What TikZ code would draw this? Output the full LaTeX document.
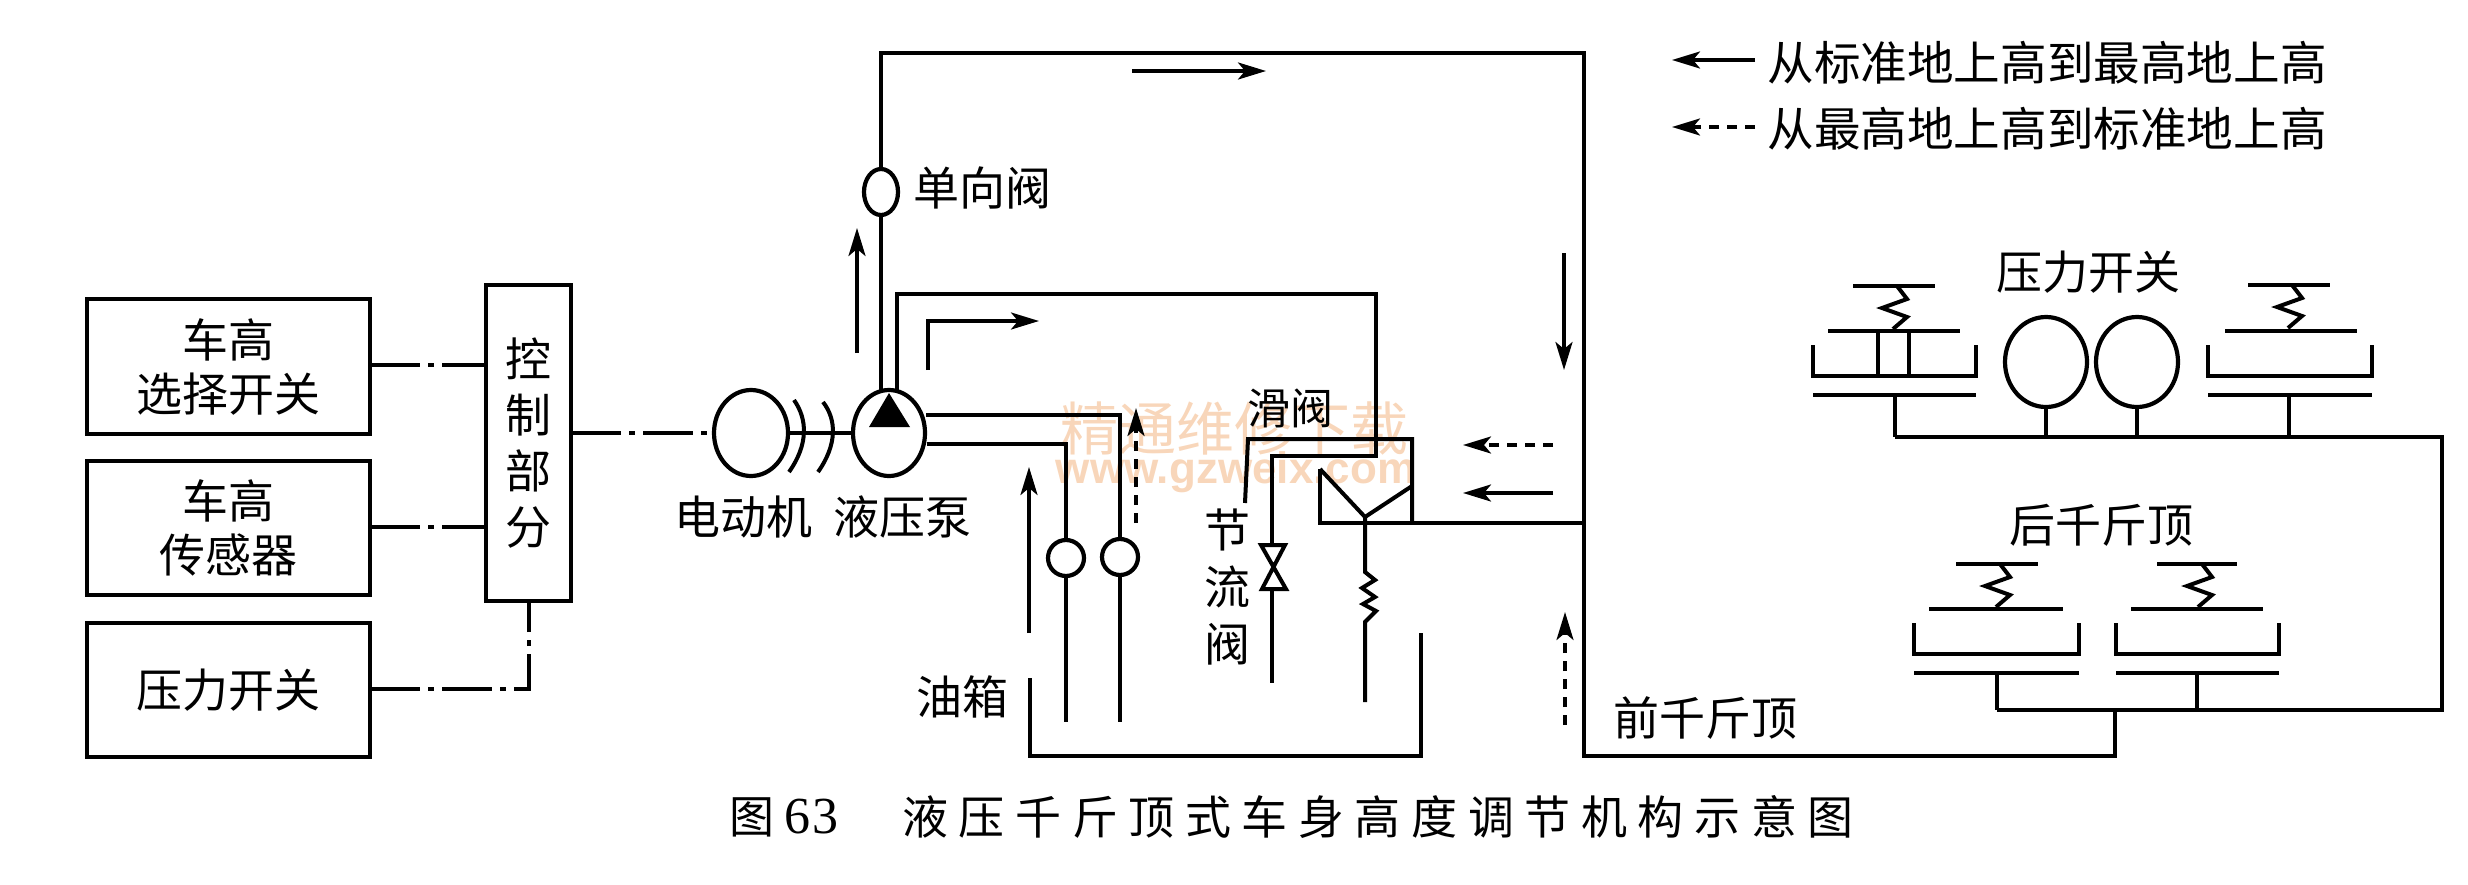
\documentclass[tikz,border=0pt]{standalone}
\usepackage{fontspec}
\setmainfont{Liberation Serif}
\newfontfamily\cjk{Noto Sans CJK SC}
\newfontfamily\cjkwide[LetterSpace=23]{Noto Sans CJK SC}
\newfontfamily\wmlatin{Liberation Sans}
\usetikzlibrary{arrows.meta,shapes.geometric}
\definecolor{wm}{HTML}{F8D6BA}
\tikzset{
  x=0.5pt,y=-0.5pt,
  pipe/.style={line width=2pt,line join=miter},
  thinpipe/.style={line width=1.6pt},
  plate/.style={line width=2.2pt},
  sig/.style={line width=1.7pt,dash pattern=on 25pt off 4pt on 3pt off 4pt},
  flow/.style={line width=1.7pt,-{Stealth[length=14pt,width=8.5pt,inset=3.5pt]}},
  flowd/.style={flow,dash pattern=on 5pt off 4pt},
  boxn/.style={draw,line width=2.1pt,rectangle,inner sep=0pt,outer sep=0pt,align=center,
    font=\cjk\fontsize{23pt}{27pt}\selectfont},
  oval/.style={draw,line width=2.1pt,ellipse,inner sep=0pt,outer sep=0pt},
  lab/.style={inner sep=0pt,outer sep=0pt,align=center,font=\cjk\fontsize{23pt}{28.5pt}\selectfont},
  wmtext/.style={inner sep=0pt,text=wm},
}
\newcommand{\swcup}[7]{% left right top bottom lowerplate stemx stemend
  \draw[pipe] (#1,#3) -- (#1,#4) -- (#2,#4) -- (#2,#3);
  \draw[plate] (#1,#5) -- (#2,#5);
  \draw[thinpipe] (#6,#5) -- (#6,#7);
}
\newcommand{\swspring}[7]{% plate1 l r y ; plate2 l r y ; spring x origin
  \draw[plate] (#1,#3) -- (#2,#3);
  \draw[plate] (#4,#6) -- (#5,#6);
  \draw[pipe] (#7,#3) -- ++(10,13) -- ++(-25,9) -- ++(25,9) -- ++(-14,12);
}
\begin{document}
\begin{tikzpicture}
\useasboundingbox (0,0) rectangle (2468,884);

% watermark
\node[wmtext,font=\cjk\fontsize{29pt}{30pt}\selectfont] (wm1) at (1234,428) {精通维修下载};
\node[wmtext,font=\wmlatin\bfseries\fontsize{22pt}{24pt}\selectfont] (wm2) at (1236,472) {www.gzweix.com};

% left blocks
\node[boxn,minimum width=141.5pt,minimum height=67.5pt] (b1) at (228.5,366.5) {车高\\选择开关};
\node[boxn,minimum width=141.5pt,minimum height=67pt] (b2) at (228.5,528) {车高\\传感器};
\node[boxn,minimum width=141.5pt,minimum height=67pt] (b3) at (228.5,690) {压力开关};
\node[boxn,minimum width=42.5pt,minimum height=158pt,font=\cjk\fontsize{23pt}{28pt}\selectfont] (ctl) at (528.5,443) {控\\制\\部\\分};

% motor, pump, check valve
\node[oval,minimum width=37pt,minimum height=43pt] (motor) at (751,433) {};
\node[oval,minimum width=36pt,minimum height=43pt] (pump) at (889,433) {};
\node[oval,minimum width=17pt,minimum height=23pt] (check) at (881,192) {};
\fill (889,393) -- (869,427) -- (910,427) -- cycle;

\draw[sig] (b1.east |- 0,365) -- (ctl.west |- 0,365);
\draw[sig] (b2.east |- 0,527) -- (ctl.west |- 0,527);
\draw[sig] (b3.east |- 0,689) -- (529,689) -- (ctl.south -| 529,0);
\draw[sig] (ctl.east |- 0,433) -- (motor.west);
\draw[thinpipe] (motor.east) -- (pump.west);
\draw[pipe] (789,472) .. controls (808,445) and (808,420) .. (794,400);
\draw[pipe] (818,472) .. controls (837,445) and (837,420) .. (823,402);

% main pipe
\coordinate (jackcorner) at (1584,756);
\coordinate (rearmid) at (2115,756);
\draw[pipe] (check.north) -- (881,53) -- (1584,53) -- (jackcorner) -- (rearmid) -- (2115,710);
\draw[pipe] (check.south) -- (881,392);
\draw[pipe] (897,391) -- (897,294) -- (1376,294) -- (1376,456) -- (1272,456) -- (1272,545);

% throttle valve
\coordinate (thtop) at (1272,545);
\coordinate (thbot) at (1272,589);
\draw[pipe,line join=miter] (1261,545) -- (1285,545) -- (1262,589) -- (1286,589) -- cycle;
\draw[pipe] (thbot) -- (1272,683);

% relief valve
\draw[pipe] (1245,503) -- (1248,439) -- (1412,439) -- (1412,523);
\draw[pipe] (1320,469) -- (1320,523) -- (1584,523);
\draw[pipe] (1320,469) -- (1365,517) -- (1412,486);
\draw[pipe] (1365,517) -- (1365,572) -- (1375,580) -- (1362,588) -- (1375,597) -- (1363,604) -- (1376,611) -- (1365,622) -- (1365,702);

% pump outlets and filters
\node[oval,minimum width=18pt,minimum height=18pt] (f1) at (1066,558) {};
\node[oval,minimum width=18pt,minimum height=18pt] (f2) at (1120,557) {};
\draw[pipe] (926,415) -- (1120,415) -- (f2.north);
\draw[pipe] (927,444) -- (1066,444) -- (f1.north);
\draw[pipe] (f1.south) -- (1066,722);
\draw[pipe] (f2.south) -- (1120,722);

% tank
\draw[pipe] (1030,678) -- (1030,756) -- (1421,756) -- (1421,633);

% flow arrows
\draw[flow] (857,353) -- (857,228);
\draw[flow] (928,370) -- (928,321) -- (1039,321);
\draw[flow] (1132,71) -- (1266,71);
\draw[flow] (1564,253) -- (1564,370);
\draw[flow] (1553,493) -- (1463,493);
\draw[flow] (1029,633) -- (1029,467);
\draw[flowd] (1553,445) -- (1463,445);
\draw[flowd] (1565,725) -- (1565,612);
\draw[flowd] (1136,523) -- (1136,408);
\draw[flow] (1755,60) -- (1672,60);
\draw[flowd] (1755,127) -- (1672,127);

% pressure switches
\swspring{1853}{1935}{286}{1828}{1960}{331}{1897}
\draw[thinpipe] (1878,331) -- (1878,376);
\draw[thinpipe] (1909,331) -- (1909,376);
\swcup{1813}{1976}{345}{376}{395}{1895}{437}
\swspring{2248}{2330}{285}{2225}{2357}{331}{2292}
\swcup{2208}{2372}{345}{376}{395}{2289}{437}
\node[oval,minimum width=41pt,minimum height=45pt] (p1) at (2046,362) {};
\node[oval,minimum width=41pt,minimum height=45pt] (p2) at (2137,362) {};
\draw[pipe] (1895,437) -- (2442,437) -- (2442,710) -- (1997,710);
\draw[thinpipe] (p1.south) -- (2046,437);
\draw[thinpipe] (p2.south) -- (2137,437);

% rear jacks
\swspring{1956}{2038}{564}{1929}{2063}{609}{2000}
\swcup{1914}{2079}{623}{654}{673}{1997}{710}
\swspring{2157}{2237}{564}{2131}{2263}{609}{2202}
\swcup{2116}{2279}{623}{654}{673}{2197}{710}

% labels
\node[lab] (lcheck) at (982,188) {单向阀};
\node[lab] (lmotor) at (743,517) {电动机};
\node[lab] (lpump) at (902,517) {液压泵};
\node[lab] (ltank) at (962,697) {油箱};
\node[lab,font=\cjk\fontsize{21.5pt}{24pt}\selectfont] (lrelief) at (1290,408) {滑阀};
\node[lab] (lth) at (1227,587) {节\\流\\阀};
\node[lab] (lfront) at (1705,718) {前千斤顶};
\node[lab] (lrear) at (2101,525) {后千斤顶};
\node[lab] (lpsw) at (2088,272) {压力开关};
\node[lab,font=\cjk\fontsize{23.3pt}{26pt}\selectfont] (lg1) at (2047,63) {从标准地上高到最高地上高};
\node[lab,font=\cjk\fontsize{23.3pt}{26pt}\selectfont] (lg2) at (2047,129) {从最高地上高到标准地上高};
\node[lab,font=\cjk\fontsize{22.5pt}{26pt}\selectfont] (capn) at (784,817) {图\hspace{5pt}{\rmfamily\fontsize{26pt}{26pt}\selectfont 6\hspace{1pt}3}};
\node[lab,font=\cjkwide\fontsize{23pt}{26pt}\selectfont] (capt) at (1378,817) {液压千斤顶式车身高度调节机构示意图};
\end{tikzpicture}
\end{document}
